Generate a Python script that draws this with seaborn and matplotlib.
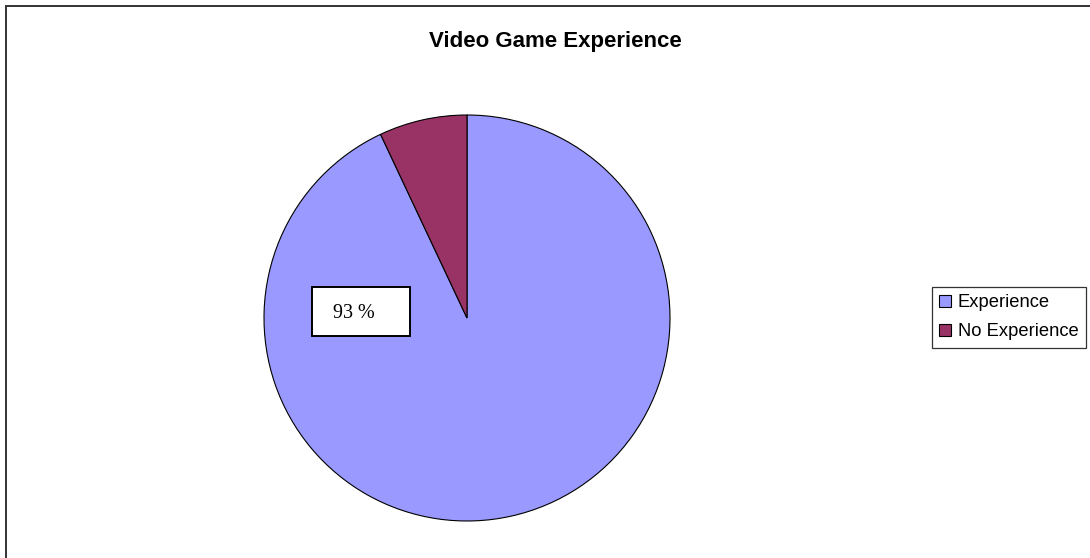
import matplotlib
matplotlib.use("Agg")
import matplotlib.pyplot as plt
from matplotlib.patches import Rectangle
import seaborn as sns

# Survey answers: share of respondents with / without video game experience
categories = ["Experience", "No Experience"]
shares = [93, 7]
slice_colors = ["#9999FF", "#993366"]
title = "Video Game Experience"

sns.set_theme(style="white")
plt.rcParams["font.family"] = ["Liberation Sans", "DejaVu Sans"]

W, H = 1090, 558
fig = plt.figure(figsize=(W / 100, H / 100), dpi=100)

# Pie axes: centre (467, 318) px, radius 203 px
cx, cy, r = 467, 318, 203
ax = fig.add_axes([(cx - r) / W, (H - cy - r) / H, 2 * r / W, 2 * r / H])
wedges, _ = ax.pie(
    shares,
    colors=slice_colors,
    startangle=90,
    counterclock=False,
    radius=1.0,
    wedgeprops=dict(edgecolor="black", linewidth=0.8),
)
ax.set_xlim(-1.0, 1.0)
ax.set_ylim(-1.0, 1.0)
ax.set_aspect("equal")
ax.axis("off")

# Value label for the larger slice, in a framed white box
box = Rectangle((-0.764, -0.089), 0.483, 0.241, facecolor="white",
                edgecolor="black", linewidth=1.4, zorder=5)
ax.add_patch(box)
ax.text(-0.555, 0.022, f"{shares[0]} %", ha="center", va="center",
        family=["Liberation Serif", "DejaVu Serif"], fontsize=14.5,
        color="black", zorder=6)

# Title
fig.text(555 / W, 1 - 41 / H, title, ha="center", va="center",
         fontsize=16, fontweight="bold", color="black")

# Legend on the right
leg = fig.legend(
    wedges, categories,
    loc="upper left",
    bbox_to_anchor=(932 / W, 1 - 287 / H),
    borderaxespad=0,
    frameon=True,
    fancybox=False,
    fontsize=13.2,
    handlelength=0.65,
    handleheight=0.65,
    handletextpad=0.35,
    borderpad=0.4,
    labelspacing=0.65,
)
leg.get_frame().set_edgecolor("black")
leg.get_frame().set_linewidth(0.9)
for t in leg.get_texts():
    t.set_color("black")
for h in leg.legend_handles:
    h.set_edgecolor("black")
    h.set_linewidth(0.8)

# Outer chart-area border (runs off the right and bottom edges)
fig.patches.append(Rectangle((6 / W, -0.05), 1.1, 1 - 6 / H + 0.05,
                             transform=fig.transFigure, fill=False,
                             edgecolor="#333333", linewidth=1.4))

fig.savefig("out.png", dpi=100, facecolor="white")
